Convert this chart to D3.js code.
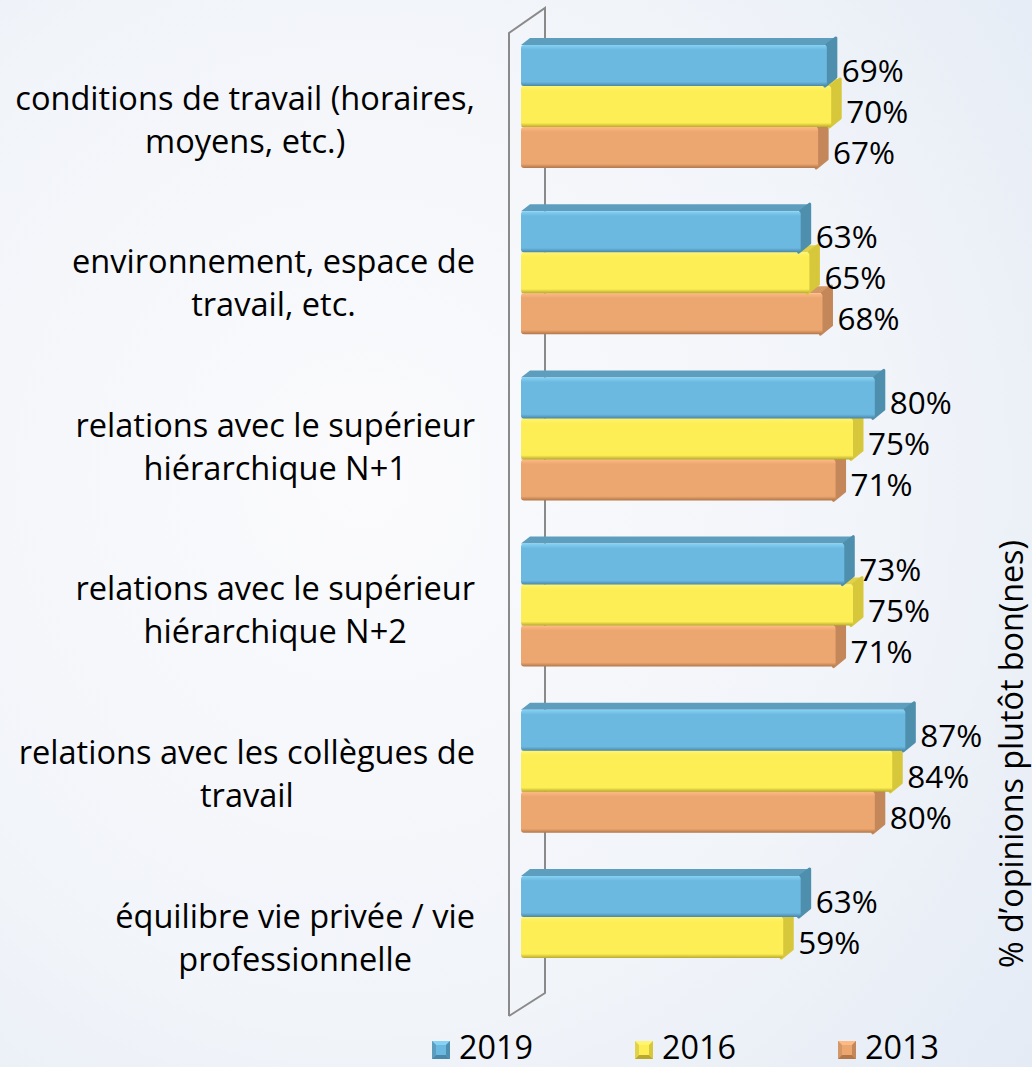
<!DOCTYPE html>
<html>
<head>
<meta charset="utf-8">
<script src="https://cdn.jsdelivr.net/npm/d3@7"></script>
<style>
  html, body { margin: 0; padding: 0; }
  body { width: 1032px; height: 1067px; overflow: hidden; }
  svg text { font-family: "Open Sans", sans-serif; fill: #000; }
</style>
</head>
<body>
<div id="chart"></div>
<script>
// categories, each one split on its lines like in the original
var categoryLines = [
  ["conditions de travail (horaires,", "moyens, etc.)"],
  ["environnement, espace de", "travail, etc."],
  ["relations avec le supérieur", "hiérarchique N+1"],
  ["relations avec le supérieur", "hiérarchique N+2"],
  ["relations avec les collègues de", "travail"],
  ["équilibre vie privée / vie", "professionnelle"]
];
var years = ["2019", "2016", "2013"];
var values2019 = [69, 63, 80, 73, 87, 63];
var values2016 = [70, 65, 75, 75, 84, 59];
var values2013 = [67, 68, 71, 71, 80, null];
var axisTitle = "% d\u2019opinions plutôt bon(nes)";

var W = 1032, H = 1067;
var depth = {dx: 9, dy: 7};

// colours per series: front, highlight, dark edge, side, top
var palette = {
  "2019": {front: "#6bb8e0", light: "#86d2f4", edge: "#4a87a8", side: "#4f8fae", top: "#5d9ebf"},
  "2016": {front: "#fdee55", light: "#fff56e", edge: "#b9aa2c", side: "#d6c73b", top: "#e0d24a"},
  "2013": {front: "#eca770", light: "#ffb985", edge: "#b27649", side: "#c4875a", top: "#d39866"}
};

var seriesValues = {"2019": values2019, "2016": values2016, "2013": values2013};
var idx = d3.range(categoryLines.length);

var svg = d3.select("#chart").append("svg")
    .attr("width", W)
    .attr("height", H);

var defs = svg.append("defs");

// background
var bg = defs.append("radialGradient").attr("id", "bg")
    .attr("cx", "35%").attr("cy", "45%").attr("r", "85%");
bg.append("stop").attr("offset", "0%").attr("stop-color", "#fbfbfd");
bg.append("stop").attr("offset", "60%").attr("stop-color", "#f1f4f9");
bg.append("stop").attr("offset", "100%").attr("stop-color", "#e4ebf5");
svg.append("rect").attr("width", W).attr("height", H).attr("fill", "url(#bg)");

years.forEach(function(yr) {
  var c = palette[yr];
  var g = defs.append("linearGradient").attr("id", "front" + yr)
      .attr("x1", 0).attr("y1", 0).attr("x2", 0).attr("y2", 1);
  g.append("stop").attr("offset", "0%").attr("stop-color", c.light);
  g.append("stop").attr("offset", "12%").attr("stop-color", c.front);
  g.append("stop").attr("offset", "90%").attr("stop-color", c.front);
  g.append("stop").attr("offset", "100%").attr("stop-color", c.edge);
});

// helper: font size so a string gets a given width
function fitSize(str, target) {
  var t = svg.append("text").style("font-size", "100px").text(str);
  var w = t.node().getComputedTextLength();
  t.remove();
  return 100 * target / w;
}

// scales
var x = d3.scaleLinear().domain([0, 100]).range([526, 962]);
var barStart = 521;

var y = d3.scaleBand().domain(idx).range([45, 999]).paddingInner(0.26).paddingOuter(0);
var ySub = d3.scaleBand().domain(years).range([0, y.bandwidth()]);
var labelY = d3.scaleLinear().domain([0, idx.length - 1]).range([131, 949]);

// floor / wall lines
var wallX1 = x(0) - 17, wallX2 = x(0) + 19;
svg.append("path")
    .attr("d", "M" + wallX1 + ",1016 L" + wallX1 + ",33 L" + wallX2 + ",8 L" + wallX2 + ",993 L" + wallX1 + ",1016")
    .attr("fill", "none")
    .attr("stroke", "#8a8a8a")
    .attr("stroke-width", 2);

// bars
var valueSize = fitSize("69%", 62);

idx.forEach(function(i) {
  var grp = svg.append("g").attr("transform", "translate(0," + y(i) + ")");
  years.slice().reverse().forEach(function(yr) {
    var v = seriesValues[yr][i];
    if (v == null) return;
    var c = palette[yr];
    var y0 = ySub(yr), y1 = y0 + ySub.bandwidth();
    var xe = x(v);
    // top face
    grp.append("path")
        .attr("d", "M" + barStart + "," + y0 + " L" + (barStart + depth.dx) + "," + (y0 - depth.dy) +
              " L" + (xe + depth.dx) + "," + (y0 - depth.dy) + " L" + xe + "," + y0 + "Z")
        .attr("fill", c.top);
    // right face
    grp.append("path")
        .attr("d", "M" + xe + "," + y0 + " L" + (xe + depth.dx) + "," + (y0 - depth.dy) +
              " L" + (xe + depth.dx) + "," + (y1 - depth.dy - 2) + " L" + (xe - 2) + "," + y1 + "Z")
        .attr("fill", c.side)
        .attr("stroke", c.side)
        .attr("stroke-linejoin", "round")
        .attr("stroke-width", 3);
    // front
    grp.append("rect")
        .attr("x", barStart)
        .attr("y", y0)
        .attr("width", xe - barStart)
        .attr("height", y1 - y0)
        .attr("rx", 3)
        .attr("fill", "url(#front" + yr + ")");
  });
  // value labels
  years.forEach(function(yr) {
    var v = seriesValues[yr][i];
    if (v == null) return;
    grp.append("text")
        .attr("x", x(v) + depth.dx + 6)
        .attr("y", ySub(yr) + ySub.bandwidth() / 2 + 4)
        .attr("dominant-baseline", "central")
        .style("font-size", valueSize + "px")
        .text(v + "%");
  });
});

// category labels: lines centred together, block right-aligned
var catSize = fitSize("conditions de travail (horaires,", 460);
var lineGap = 43;
idx.forEach(function(i) {
  var lines = categoryLines[i];
  var t = svg.append("text").style("font-size", catSize + "px").attr("text-anchor", "middle");
  var spans = t.selectAll("tspan").data(lines).enter().append("tspan")
      .attr("y", function(d, k) { return labelY(i) + (k - (lines.length - 1) / 2) * lineGap; })
      .text(function(d) { return d; });
  var maxW = 0;
  spans.each(function() { maxW = Math.max(maxW, this.getComputedTextLength()); });
  spans.attr("x", 475 - maxW / 2);
});

// axis title, vertical on the right
var titleSize = fitSize(axisTitle, 428);
svg.append("text")
    .attr("transform", "translate(1023,754) rotate(-90)")
    .attr("text-anchor", "middle")
    .style("font-size", titleSize + "px")
    .text(axisTitle);

// legend
var legendX = d3.scalePoint().domain(years).range([432, 838]);
var legendSize = fitSize("2019", 74);
var m = 18, my = 1041;
years.forEach(function(yr) {
  var c = palette[yr];
  var lx = legendX(yr);
  var lg = svg.append("g").attr("transform", "translate(" + lx + "," + my + ")");
  lg.append("rect").attr("width", m).attr("height", m).attr("fill", c.front);
  var b = 4;
  lg.append("path").attr("d", "M0,0 L" + m + ",0 L" + (m - b) + "," + b + " L" + b + "," + b + "Z").attr("fill", c.light);
  lg.append("path").attr("d", "M0,0 L" + b + "," + b + " L" + b + "," + (m - b) + " L0," + m + "Z").attr("fill", c.top);
  lg.append("path").attr("d", "M" + m + ",0 L" + m + "," + m + " L" + (m - b) + "," + (m - b) + " L" + (m - b) + "," + b + "Z").attr("fill", c.side);
  lg.append("path").attr("d", "M0," + m + " L" + m + "," + m + " L" + (m - b) + "," + (m - b) + " L" + b + "," + (m - b) + "Z").attr("fill", c.edge);
  svg.append("text")
      .attr("x", lx + 27)
      .attr("y", my + m)
      .style("font-size", legendSize + "px")
      .text(yr);
});
</script>
</body>
</html>
